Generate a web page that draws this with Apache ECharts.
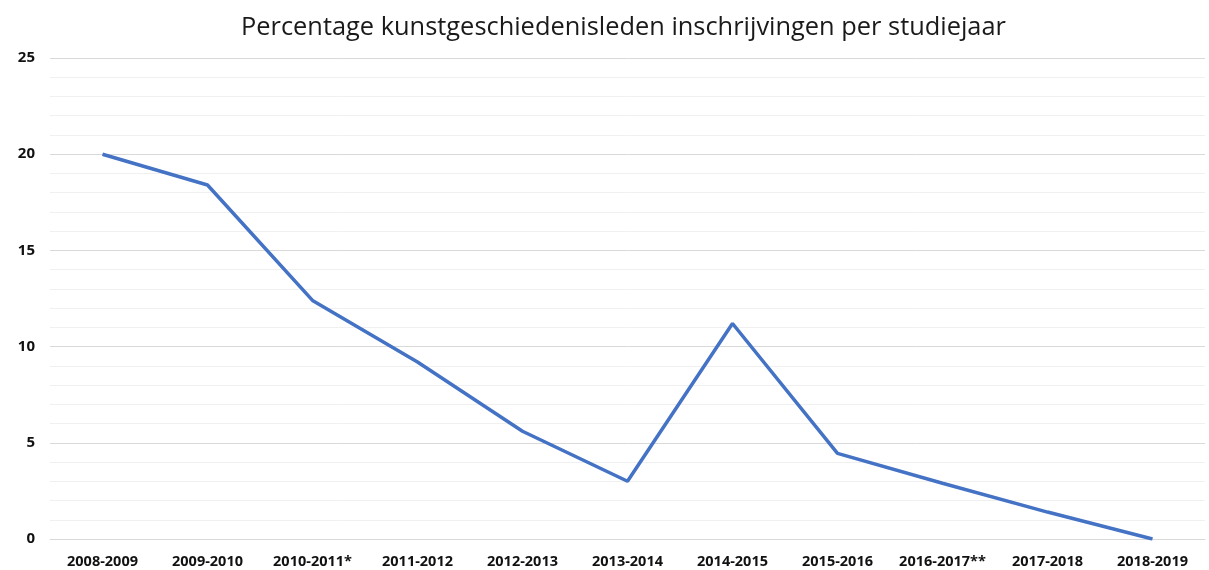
<!DOCTYPE html>
<html>
<head>
<meta charset="utf-8">
<script src="https://cdn.jsdelivr.net/npm/echarts@6/dist/echarts.min.js"></script>
<style>
  html, body { margin: 0; padding: 0; background: #fff; }
  #chart { width: 1209px; height: 570px; }
</style>
</head>
<body>
<div id="chart"></div>
<script>
// study years on the x axis
const years = [
  '2008-2009', '2009-2010', '2010-2011*', '2011-2012', '2012-2013',
  '2013-2014', '2014-2015', '2015-2016', '2016-2017**', '2017-2018', '2018-2019'
];
// percentage of art-history enrolments
const percentages = [20, 18.4, 12.4, 9.2, 5.6, 3.0, 11.2, 4.45, 2.9, 1.4, 0];

const chart = echarts.init(document.getElementById('chart'));

chart.setOption({
  animation: false,
  title: {
    text: 'Percentage kunstgeschiedenisleden inschrijvingen per studiejaar',
    left: 236,
    top: 10,
    textStyle: {
      fontFamily: 'Open Sans',
      fontSize: 25.4,
      fontWeight: 'normal',
      color: '#1a1a1a'
    }
  },
  grid: {
    left: 50,
    right: 4,
    top: 58,
    bottom: 31
  },
  xAxis: {
    type: 'category',
    data: years,
    boundaryGap: true,
    axisLine: { lineStyle: { color: '#d9d9d9' } },
    axisTick: { show: false },
    axisLabel: {
      margin: 15,
      color: '#111',
      fontFamily: 'Open Sans',
      fontWeight: 'bold',
      fontSize: 14.5,
      interval: 0
    }
  },
  yAxis: {
    type: 'value',
    min: 0,
    max: 25,
    interval: 5,
    axisLine: { show: false },
    axisTick: { show: false },
    axisLabel: {
      margin: 15,
      color: '#111',
      fontFamily: 'Open Sans',
      fontWeight: 'bold',
      fontSize: 15
    },
    splitLine: { lineStyle: { color: '#d9d9d9', width: 1 } },
    minorTick: { show: false, splitNumber: 5 },
    minorSplitLine: { show: true, lineStyle: { color: '#f0f0f0', width: 1 } }
  },
  series: [{
    type: 'line',
    data: percentages,
    symbol: 'none',
    lineStyle: { color: '#4472c4', width: 3.5 },
    itemStyle: { color: '#4472c4' }
  }]
});
</script>
</body>
</html>
